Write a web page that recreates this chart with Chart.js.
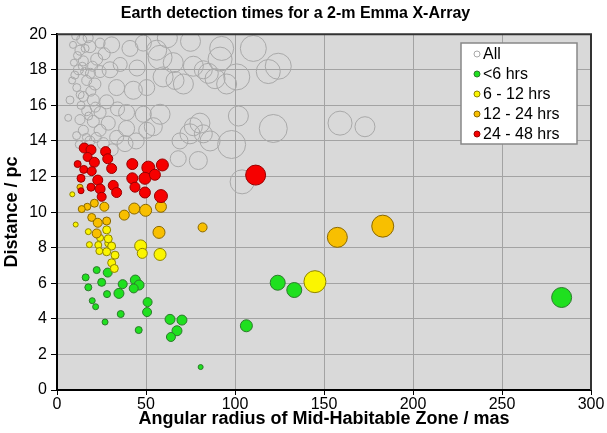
<!DOCTYPE html>
<html>
<head>
<meta charset="utf-8">
<script src="https://cdn.jsdelivr.net/npm/chart.js@4/dist/chart.umd.min.js"></script>
<style>
html, body { margin: 0; padding: 0; background: #fff; }
</style>
</head>
<body>
<canvas id="chart" width="607" height="433"></canvas>
<script>
const FONT = "'Liberation Sans', Arial, sans-serif";

const seriesLabels = ['All', '<6 hrs', '6 - 12 hrs', '12 - 24 hrs', '24 - 48 hrs'];
const xTicks = [0, 50, 100, 150, 200, 250, 300];
const yTicks = [0, 2, 4, 6, 8, 10, 12, 14, 16, 18, 20];

// All stars (grey rings)
const allX = [13.9, 12.9, 18.5, 24.2, 30.7, 41, 48.5, 14.8, 22.3, 29.8, 24.2, 12, 16.7, 21.3, 33.5, 42.9, 50.4, 11.1, 14.8, 7.3,
  20.4, 27.9, 16.7, 24.2, 39.1, 48.5, 6.3, 12.9, 20.4, 28.8, 14.8, 24.2, 39.1, 33.5, 50.4, 18.5, 38.2, 26, 10.5, 11.5,
  10, 13.5, 11, 16, 20, 17.5, 9.5, 15.5, 12.5, 22, 26.5, 35.5, 45, 34, 44.5, 31,
  92.5, 110.3, 124.3, 118.7, 101, 91.6, 85, 71, 65.3, 57.9, 59.6, 57.9, 80.3, 74.7, 86, 98.1, 101.9, 121.5, 159, 173,
  79.4, 68.1, 56, 66.3, 82.2, 88.8, 95.3, 54.1, 76.6, 82.2, 69.1, 104, 62, 75, 76.6,
  15.8, 19, 13, 17.8, 9, 14.2, 18.8, 21.5, 8.5, 16.5];
const allY = [19.7, 19.1, 19.3, 19.5, 19.4, 19.2, 19.5, 18.5, 18.6, 18, 17.9, 18, 17.4, 17.2, 17, 16.85, 17, 17, 16.5, 16.3,
  16.3, 16.2, 15.7, 15.6, 15.6, 15.5, 15.3, 15.2, 15.1, 15, 14.6, 14.6, 14.7, 14.2, 14.6, 14, 13.85, 13.85, 19.9, 18.8,
  17.7, 16, 14.3, 13.6, 18.2, 19.8, 18.4, 17.9, 13.8, 14.2, 18.9, 18.3, 18.1, 15.8, 14, 13.5,
  19.2, 19.2, 18.2, 17.9, 17.6, 18.6, 17.8, 17.2, 18.4, 18.7, 17.6, 15.5, 15, 14.4, 14, 13.8, 15.4, 14.7, 15, 14.8,
  12.9, 13, 19.1, 17.4, 18, 17.5, 17.2, 14.8, 14.8, 14.4, 14, 11.7, 19.8, 19.6, 18.2,
  19.2, 16.8, 16.6, 15.4, 19.4, 18.2, 17.8, 15.9, 17.4, 14.2];
const allSize = [5, 5, 6, 5, 8, 8, 8, 5, 6, 8, 6, 5, 5, 6, 8, 9, 8, 4, 5, 4,
  6, 7, 5, 6, 8, 8, 3.5, 5, 6, 7, 5, 6, 8, 7, 8, 5, 8, 6, 4, 4,
  4, 4, 4, 5, 5, 5, 3.5, 4, 4, 5, 6, 7, 8, 7, 8, 6,
  12, 13, 13, 12, 13, 12, 10, 10, 10, 12, 10, 10, 10, 10, 10, 14, 10, 14, 12, 10,
  9, 8, 10, 9, 9, 10, 10, 9, 9, 9, 8, 12, 10, 10, 10,
  4, 5, 4, 4, 3.5, 4, 5, 5, 3.5, 4];

// < 6 hrs
const lt6X = [22.3, 28.5, 16.1, 25.1, 17.6, 36.9, 44.0, 46.1, 43.1, 34.8, 28.1, 19.8, 21.7, 50.9, 50.6, 35.8, 27.0, 63.5, 70.2, 67.4,
  64.0, 45.9, 80.7, 124.0, 133.3, 106.4, 283.5];
const lt6Y = [6.74, 6.6, 6.33, 6.05, 5.77, 5.95, 6.18, 5.9, 5.71, 5.43, 5.39, 5.02, 4.68, 4.94, 4.38, 4.27, 3.82, 3.97, 3.93, 3.33,
  2.98, 3.37, 1.29, 6.03, 5.62, 3.61, 5.2];
const lt6Size = [3.5, 4.5, 3.5, 4, 3.5, 4.5, 5, 5, 4.5, 5, 3.5, 3, 3, 4.5, 4.5, 3.5, 3, 5, 5, 5,
  4.5, 3.5, 2.5, 7.5, 7.5, 6, 10];

// 6 - 12 hrs
const h6X = [18.2, 23.2, 28.8, 30.7, 23.8, 27.9, 32.6, 30.7, 32.2, 47, 47.9, 57.9, 144.9, 17.6, 27.9, 28.8, 8.6, 10.5, 24.2];
const h6Y = [8.17, 8.15, 8.24, 8.09, 7.81, 7.77, 7.58, 7.15, 6.83, 8.1, 7.68, 7.62, 6.09, 8.9, 9.0, 8.5, 11.0, 9.3, 8.55];
const h6Size = [3, 3.5, 3.5, 4, 3.5, 4, 4, 4, 4, 6, 5, 6, 11, 3, 4, 4, 2.5, 2.5, 3.5];

// 12 - 24 hrs
const h12X = [12.9, 17, 21, 26.6, 13.9, 37.8, 43.4, 49.8, 58.4, 19.5, 22.9, 27.9, 57.3, 22.3, 81.8, 157.5, 183];
const h12Y = [11.4, 10.3, 10.5, 10.3, 10.17, 9.83, 10.2, 10.1, 10.3, 9.7, 9.4, 9.5, 8.86, 8.8, 9.14, 8.58, 9.21];
const h12Size = [3, 3.5, 4, 4.5, 3.5, 5, 5.5, 6, 5.5, 4, 4.5, 4, 6, 4.5, 4.5, 10, 11];

// 24 - 48 hrs
const h24X = [15.3, 19.1, 27.3, 17.2, 21, 28.5, 11.6, 15, 19.5, 30.7, 13.5, 22.9, 19.1, 24.2, 31.6, 33.5, 25.1, 42.3, 51.3, 59.2,
  42.3, 49.4, 55, 43.8, 49.4, 58.4, 13.5, 111.6];
const h24Y = [13.6, 13.5, 13.4, 13.1, 12.8, 13.0, 12.7, 12.4, 12.3, 12.45, 11.9, 11.8, 11.4, 11.3, 11.5, 11.1, 10.86, 12.7, 12.5, 12.65,
  11.9, 11.9, 12.1, 11.4, 11.1, 10.9, 11.2, 12.08];
const h24Size = [5, 5, 5, 4.5, 5, 5, 3.5, 4, 4.5, 5, 4, 5, 4, 5, 5, 5, 4.5, 5.5, 6.5, 6,
  5.5, 6, 5.5, 5, 5.5, 6.5, 3, 10];

function points(xs, ys, rs) {
  return xs.map((x, i) => ({ x: x, y: ys[i], r: rs[i] }));
}

const plotBackground = {
  id: 'plotBackground',
  beforeDraw(chart) {
    const { ctx, chartArea: a } = chart;
    ctx.save();
    ctx.fillStyle = '#d9d9d9';
    ctx.fillRect(a.left, a.top, a.right - a.left, a.bottom - a.top);
    ctx.restore();
  },
  afterDatasetsDraw(chart) {
    const { ctx, chartArea: a } = chart;
    ctx.save();
    ctx.strokeStyle = '#333';
    ctx.lineWidth = 2;
    ctx.beginPath();
    ctx.moveTo(a.left, a.top);
    ctx.lineTo(a.right, a.top);
    ctx.lineTo(a.right, a.bottom);
    ctx.stroke();
    ctx.restore();
  }
};

// legend box sits inside the plot, top right
const boxLegend = {
  id: 'boxLegend',
  afterDraw(chart) {
    const ctx = chart.ctx;
    const left = 461, top = 43, w = 116, h = 101;
    ctx.save();
    ctx.fillStyle = '#fff';
    ctx.fillRect(left, top, w, h);
    ctx.strokeStyle = '#888';
    ctx.lineWidth = 1.5;
    ctx.strokeRect(left, top, w, h);
    ctx.font = '16px ' + FONT;
    ctx.textBaseline = 'middle';
    chart.data.datasets.forEach((ds, i) => {
      const y = top + 11 + i * 20;
      ctx.beginPath();
      ctx.arc(left + 16, y, 3, 0, Math.PI * 2);
      ctx.fillStyle = i === 0 ? '#fff' : ds.backgroundColor;
      ctx.fill();
      ctx.lineWidth = 1;
      ctx.strokeStyle = ds.borderColor;
      ctx.stroke();
      ctx.fillStyle = '#000';
      ctx.fillText(ds.label, left + 22, y + 1);
    });
    ctx.restore();
  }
};

const gridColor = '#a3a3a3';

new Chart(document.getElementById('chart'), {
  type: 'bubble',
  data: {
    datasets: [
      { label: seriesLabels[0], data: points(allX, allY, allSize), backgroundColor: 'rgba(0,0,0,0)', borderColor: '#a9a9a9', borderWidth: 1, order: 5, clip: 0 },
      { label: seriesLabels[1], data: points(lt6X, lt6Y, lt6Size), backgroundColor: '#1fe01f', borderColor: '#2c7a2c', borderWidth: 1, order: 4, clip: 0 },
      { label: seriesLabels[2], data: points(h6X, h6Y, h6Size), backgroundColor: '#fbf500', borderColor: '#8f8400', borderWidth: 1, order: 3, clip: 0 },
      { label: seriesLabels[3], data: points(h12X, h12Y, h12Size), backgroundColor: '#f8bf00', borderColor: '#8a6800', borderWidth: 1, order: 2, clip: 0 },
      { label: seriesLabels[4], data: points(h24X, h24Y, h24Size), backgroundColor: '#f60000', borderColor: '#9a0000', borderWidth: 1, order: 1, clip: 0 }
    ]
  },
  options: {
    responsive: false,
    animation: false,
    events: [],
    devicePixelRatio: 1,
    layout: { padding: { left: 0, right: 16, top: 0, bottom: 0 } },
    plugins: {
      legend: { display: false },
      tooltip: { enabled: false },
      title: {
        display: true,
        text: 'Earth detection times for a 2-m Emma X-Array',
        color: '#000',
        font: { family: FONT, size: 16, weight: 'bold' },
        padding: { top: 4, bottom: 11 }
      }
    },
    scales: {
      x: {
        type: 'linear',
        min: 0,
        max: 300,
        afterBuildTicks: s => { s.ticks = xTicks.map(v => ({ value: v })); },
        ticks: { color: '#000', font: { family: FONT, size: 16 }, padding: 0, maxRotation: 0 },
        grid: { color: gridColor, tickColor: '#000', tickLength: 5, lineWidth: 1 },
        border: { color: '#000', width: 2 },
        title: {
          display: true,
          text: 'Angular radius of Mid-Habitable Zone / mas',
          color: '#000',
          font: { family: FONT, size: 18, weight: 'bold' },
          padding: { top: 0, bottom: 3 }
        },
        afterFit: s => { s.height = 43; }
      },
      y: {
        type: 'linear',
        min: 0,
        max: 20,
        afterBuildTicks: s => { s.ticks = yTicks.map(v => ({ value: v })); },
        ticks: { color: '#000', font: { family: FONT, size: 16 }, padding: 4 },
        grid: { color: gridColor, tickColor: '#000', tickLength: 6, lineWidth: 1 },
        border: { color: '#000', width: 2 },
        title: {
          display: true,
          text: 'Distance / pc',
          color: '#000',
          font: { family: FONT, size: 18, weight: 'bold' },
          padding: { top: 1, bottom: 0 }
        },
        afterFit: s => { s.width = 57; }
      }
    }
  },
  plugins: [plotBackground, boxLegend]
});
</script>
</body>
</html>
